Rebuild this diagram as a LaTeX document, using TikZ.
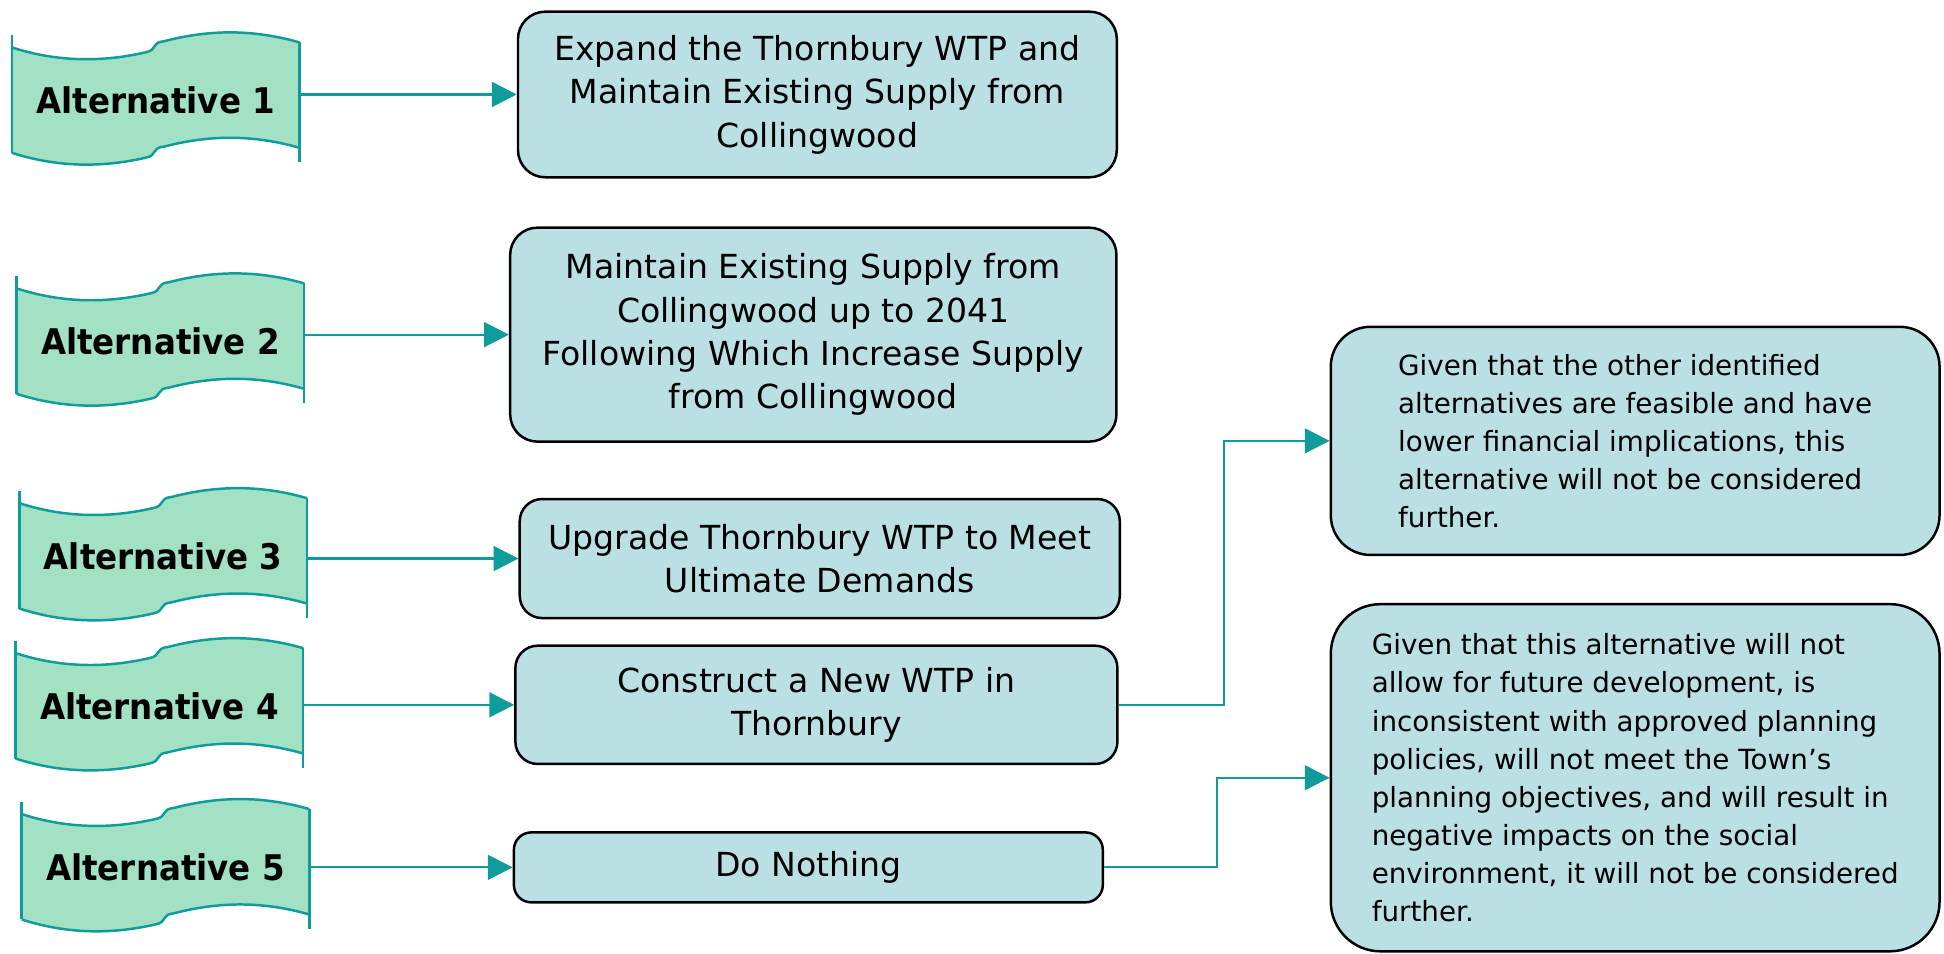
\documentclass[tikz,border=0pt]{standalone}
\usepackage{fontspec}
\setmainfont{DejaVu Sans}
\newfontfamily\altfont[FakeStretch=0.92]{DejaVu Sans}
\usetikzlibrary{arrows.meta,calc}
\definecolor{tapefill}{HTML}{A3E1C5}
\definecolor{tealline}{HTML}{0F9C9A}
\definecolor{boxfill}{HTML}{BAE0E3}
\tikzset{
  tapeline/.style={draw=tealline, line width=2pt},
  altlabel/.style={font=\altfont\bfseries\fontsize{28.5}{34}\selectfont, minimum width=232pt, minimum height=80pt, inner sep=0pt},
  optbox/.style={draw=black, line width=2pt, fill=boxfill, rounded corners=22pt, inner sep=0pt, align=center, font=\fontsize{26.7}{35}\selectfont},
  notebox/.style={draw=black, line width=2pt, fill=boxfill, inner sep=0pt, align=left, font=\fontsize{22.4}{30.7}\selectfont},
  link/.style={draw=tealline, line width=1.8pt, -{Triangle[length=20pt,width=20pt]}},
}
\newcommand\tapeat[2]{%
  \begin{scope}[shift={(#1,#2)}]
    \fill[tapefill] (0,10) .. controls (37,22) and (73,22) .. (108,14) .. controls (118,12) and (112,6) .. (123,5) .. controls (160,-4.6) and (195,-4.6) .. (232,6) -- (232,91) .. controls (195,80.4) and (160,80.4) .. (123,90) .. controls (112,91) and (118,97) .. (108,99) .. controls (73,107) and (37,107) .. (0,95) -- cycle;
    \draw[tapeline] (0,10) .. controls (37,22) and (73,22) .. (108,14) .. controls (118,12) and (112,6) .. (123,5) .. controls (160,-4.6) and (195,-4.6) .. (232,6);
    \draw[tapeline] (0,95) .. controls (37,107) and (73,107) .. (108,99) .. controls (118,97) and (112,91) .. (123,90) .. controls (160,80.4) and (195,80.4) .. (232,91);
    \draw[tapeline] (0,0) -- (0,95);
    \draw[tapeline] (232,6) -- (232,102.7);
  \end{scope}}
\begin{document}
\begin{tikzpicture}[x=1pt,y=-1pt]
\useasboundingbox (0,0) rectangle (1568,769);
% tapes
\tapeat{9.5}{28.2}
\tapeat{13.4}{222.6}
\tapeat{15.6}{395.8}
\tapeat{12.6}{516.8}
\tapeat{17.5}{646.6}
\node[altlabel] (alt1) at (125.5,81.2) {Alternative 1};
\node[altlabel] (alt2) at (129.4,275.6) {Alternative 2};
\node[altlabel] (alt3) at (131.6,448.8) {Alternative 3};
\node[altlabel] (alt4) at (128.6,569.8) {Alternative 4};
\node[altlabel] (alt5) at (133.5,699.6) {Alternative 5};
% option boxes
\node[optbox, minimum width=483pt, minimum height=133.6pt] (b1) at (659.3,76.2) {Expand the Thornbury WTP and\\Maintain Existing Supply from\\Collingwood};
\node[optbox, minimum width=489pt, minimum height=172.6pt] (b2) at (656,269.9) {Maintain Existing Supply from\\Collingwood up to 2041\\Following Which Increase Supply\\from Collingwood};
\node[optbox, rounded corners=18pt, minimum width=484pt, minimum height=96pt] (b3) at (661.2,450.5) {Upgrade Thornbury WTP to Meet\\Ultimate Demands};
\node[optbox, rounded corners=18pt, minimum width=485.6pt, minimum height=95.4pt] (b4) at (658.5,568.5) {Construct a New WTP in\\Thornbury};
\node[optbox, rounded corners=14pt, minimum width=475pt, minimum height=56.4pt] (b5) at (652,699.6) {Do Nothing};
% note boxes
\node[notebox, rounded corners=32pt, minimum width=491pt, minimum height=184pt] (r1) at (1318.9,355.6) {Given that the other identified\\alternatives are feasible and have\\lower financial implications, this\\alternative will not be considered\\further.};
\node[notebox, rounded corners=40pt, minimum width=491pt, minimum height=280pt] (r2) at (1318.9,627.3) {Given that this alternative will not\\allow for future development, is\\inconsistent with approved planning\\policies, will not meet the Town’s\\planning objectives, and will result in\\negative impacts on the social\\environment, it will not be considered\\further.};
% connectors
\draw[link] (alt1.east |- b1.west) -- (b1.west);
\draw[link] (alt2.east |- b2.west) -- (b2.west);
\draw[link] (alt3.east |- b3.west) -- (b3.west);
\draw[link] (alt4.east |- b4.west) -- (b4.west);
\draw[link] (alt5.east |- b5.west) -- (b5.west);
\coordinate (m1) at ($(b4.east)!.5!(r1.west)$);
\coordinate (m2) at ($(b5.east)!.5!(r2.west)$);
\draw[link] (b4.east) -| (m1) |- (r1.west);
\draw[link] (b5.east) -| (m2) |- (r2.west);
\end{tikzpicture}
\end{document}
